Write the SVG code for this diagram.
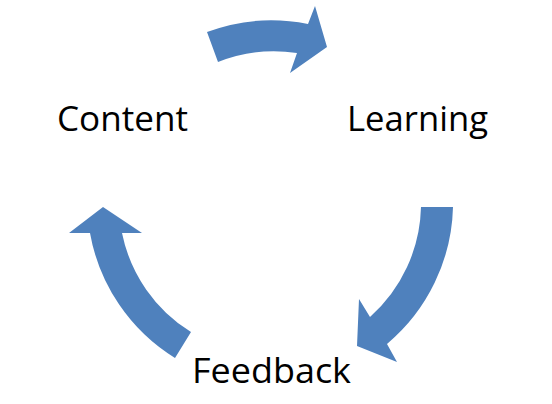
<svg xmlns="http://www.w3.org/2000/svg" width="552" height="404" viewBox="0 0 552 404">
<style>
.arrow{fill:#4F81BD;stroke:none}
.lbl{font-family:"Open Sans","Liberation Sans",sans-serif;font-size:34px;fill:#000}
</style>
<rect width="552" height="404" fill="#fff"/>
<g id="connectors">
<path class="arrow" d="M207,32 A185,185 0 0 1 308,24 L315,6 L327,47 L290,73 L297,53 A152,152 0 0 0 218,62 Z"/>
<path class="arrow" d="M421,207 L453,207 A185,185 0 0 1 387,344 L397,362 L357,346 L359,299 L370,317 A152,152 0 0 0 421,207 Z"/>
<path class="arrow" d="M103,207 L142,233 L122,233 A152,152 0 0 0 191,332 L175,358 A185,185 0 0 1 90,233 L69,233 Z"/>
</g>
<g id="content"><text class="lbl" x="57" y="131" textLength="131" lengthAdjust="spacingAndGlyphs">Content</text></g>
<g id="learning"><text class="lbl" x="347" y="131" textLength="141" lengthAdjust="spacingAndGlyphs">Learning</text></g>
<g id="feedback"><text class="lbl" x="192" y="383" textLength="159" lengthAdjust="spacingAndGlyphs">Feedback</text></g>
</svg>
